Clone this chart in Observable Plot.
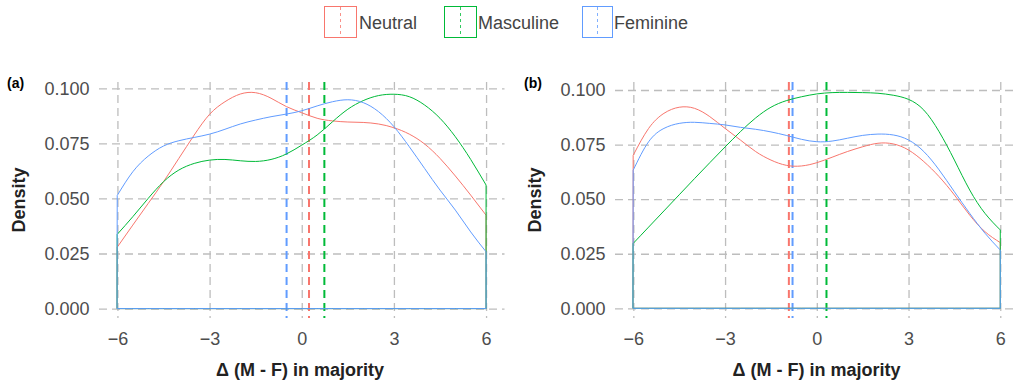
<!DOCTYPE html>
<html>
<head>
<meta charset="utf-8">
<script src="https://cdn.jsdelivr.net/npm/d3@7"></script>
<script src="https://cdn.jsdelivr.net/npm/@observablehq/plot@0.6"></script>
<style>
  html, body { margin: 0; padding: 0; background: #fff; }
  #root { width: 1018px; height: 384px; overflow: hidden; font-family: "Liberation Sans", Arial, sans-serif; }
  #row { display: flex; flex-direction: row; }
  svg { display: block; }
</style>
</head>
<body>
<div id="root">
  <div id="legend"></div>
  <div id="row"></div>
</div>
<script>
// ---------- data ----------
const groups = ["Neutral", "Masculine", "Feminine"];
const colors = ["#F8766D", "#00BA38", "#619CFF"];

const xs = [-6, -5.5, -5, -4.5, -4, -3.5, -3, -2.5, -2, -1.5, -1, -0.5, 0,
            0.5, 1, 1.5, 2, 2.5, 3, 3.5, 4, 4.5, 5, 5.5, 6];

// panel (a)
const aNeutral   = [0.028, 0.0379, 0.0477, 0.0576, 0.0682, 0.0788, 0.0882, 0.0939, 0.0974, 0.098, 0.0955, 0.0917, 0.0889,
                    0.0864, 0.0852, 0.0847, 0.0845, 0.0838, 0.0821, 0.0792, 0.0747, 0.0682, 0.0602, 0.0515, 0.0424];
const aMasculine = [0.0338, 0.0417, 0.05, 0.0576, 0.0629, 0.0659, 0.0674, 0.0677, 0.0671, 0.0668, 0.0677, 0.0702, 0.0742,
                    0.0788, 0.0848, 0.0905, 0.0944, 0.0967, 0.0973, 0.0962, 0.0924, 0.0864, 0.078, 0.0677, 0.0561];
const aFeminine  = [0.0515, 0.0621, 0.0692, 0.0738, 0.0762, 0.0777, 0.0792, 0.0814, 0.0838, 0.0856, 0.0871, 0.0883, 0.0898,
                    0.092, 0.0939, 0.0948, 0.0935, 0.0894, 0.0826, 0.0735, 0.0636, 0.0538, 0.0447, 0.0348, 0.0258];
const aMeans = [0.22, 0.72, -0.51];

// panel (b)
const bNeutral   = [0.0702, 0.0824, 0.0893, 0.0921, 0.0916, 0.0878, 0.0824, 0.0771, 0.0718, 0.0679, 0.0655, 0.0652, 0.0667,
                    0.0692, 0.0718, 0.074, 0.0756, 0.0753, 0.0725, 0.0672, 0.0603, 0.0519, 0.0427, 0.0351, 0.0301];
const bMasculine = [0.0298, 0.0372, 0.0446, 0.052, 0.0594, 0.0667, 0.0739, 0.0809, 0.0872, 0.0921, 0.0951, 0.0969, 0.0982,
                    0.0988, 0.0989, 0.0988, 0.0985, 0.0976, 0.0957, 0.0908, 0.0809, 0.0679, 0.0542, 0.0435, 0.0359];
const bFeminine  = [0.0634, 0.0763, 0.0824, 0.0847, 0.0852, 0.0847, 0.084, 0.0829, 0.082, 0.0808, 0.0792, 0.0774, 0.0763,
                    0.0766, 0.0779, 0.0792, 0.0798, 0.0794, 0.0771, 0.0718, 0.0634, 0.0534, 0.0435, 0.0344, 0.0267];
const bMeans = [-0.93, 0.30, -0.81];

const xTicks = [-6, -3, 0, 3, 6];
const yTicks = [0, 0.025, 0.05, 0.075, 0.1];
const xTitle = "Δ (M - F) in majority";
const yTitle = "Density";

// ---------- helpers ----------
function buildRows(series) {
  const rows = [];
  series.forEach((vals, gi) => {
    vals.forEach((v, i) => rows.push({group: groups[gi], x: xs[i], y: v}));
  });
  return rows;
}
function buildMeans(means) {
  return means.map((m, i) => ({group: groups[i], x: m}));
}
const fmtX = d => (d < 0 ? "\u2212" + Math.abs(d) : String(d));
const fmtY = d3.format(".3f");

function panel(cfg) {
  const rows = buildRows(cfg.series);
  const meanRows = buildMeans(cfg.means);
  const svg = Plot.plot({
    width: 509,
    height: 339,
    marginTop: 37,
    marginBottom: 66,
    marginLeft: cfg.marginLeft,
    marginRight: cfg.marginRight,
    style: {
      fontFamily: "'Liberation Sans', Arial, sans-serif",
      fontSize: "18px",
      color: "#4d4d4d",
      background: "#fff",
      overflow: "visible"
    },
    x: {domain: cfg.xDomain, ticks: xTicks},
    y: {domain: cfg.yDomain, ticks: yTicks},
    color: {domain: groups, range: colors},
    marks: [
      Plot.gridX(xTicks, {stroke: "#bdbdbd", strokeOpacity: 1, strokeWidth: 1.3, strokeDasharray: "8,5"}),
      Plot.gridY(yTicks, {stroke: "#bdbdbd", strokeOpacity: 1, strokeWidth: 1.3, strokeDasharray: "8,5"}),
      Plot.axisX({ticks: xTicks, tickSize: 0, tickPadding: 14, tickFormat: fmtX, label: null}),
      Plot.axisY({ticks: yTicks, tickSize: 0, tickPadding: 10, tickFormat: fmtY, label: null}),
      Plot.ruleX(meanRows, {x: "x", stroke: "group", strokeWidth: 2, strokeDasharray: "8,5"}),
      Plot.area(rows, {x1: "x", y1: 0, y2: "y", z: "group", fill: "none", stroke: "group", strokeWidth: 1, curve: "natural"})
    ]
  });
  const s = d3.select(svg);
  s.append("text")
    .attr("transform", `translate(${cfg.yTitleX},155) rotate(-90)`)
    .attr("text-anchor", "middle")
    .attr("dy", "0.35em")
    .attr("font-weight", "bold")
    .attr("font-size", 18)
    .attr("fill", "#222")
    .text(yTitle);
  s.append("text")
    .attr("x", cfg.xTitleX)
    .attr("y", 324.5)
    .attr("dy", "0.35em")
    .attr("text-anchor", "middle")
    .attr("font-weight", "bold")
    .attr("font-size", 18)
    .attr("fill", "#222")
    .text(xTitle);
  s.append("text")
    .attr("x", cfg.tagX)
    .attr("y", 43)
    .attr("text-anchor", "start")
    .attr("font-weight", "bold")
    .attr("font-size", 14)
    .attr("fill", "#000")
    .text(cfg.tag);
  return svg;
}

const row = document.getElementById("row");
row.appendChild(panel({
  series: [aNeutral, aMasculine, aFeminine],
  means: aMeans,
  marginLeft: 99, marginRight: 4.5,
  xDomain: [-6.6, 6.6],
  yDomain: [-0.00427, 0.10286],
  yTitleX: 18.5, xTitleX: 300, tagX: 7, tag: "(a)"
}));
row.appendChild(panel({
  series: [bNeutral, bMasculine, bFeminine],
  means: bMeans,
  marginLeft: 106, marginRight: 0,
  xDomain: [-6.6, 6.58],
  yDomain: [-0.00444, 0.10366],
  yTitleX: 26, xTitleX: 307.5, tagX: 15, tag: "(b)"
}));

// ---------- legend ----------
const legendItems = [
  {label: groups[0], color: colors[0], bx: 324, bw: 32, tx: 359},
  {label: groups[1], color: colors[1], bx: 444, bw: 32, tx: 478},
  {label: groups[2], color: colors[2], bx: 582, bw: 30, tx: 614}
];
const lg = d3.select("#legend").append("svg").attr("width", 1018).attr("height", 45);
legendItems.forEach(it => {
  const g = lg.append("g");
  g.append("rect").attr("x", it.bx + 0.5).attr("y", 6.5).attr("width", it.bw).attr("height", 31)
    .attr("fill", "#fff").attr("stroke", it.color).attr("stroke-width", 1);
  g.append("line").attr("x1", it.bx + it.bw / 2 + 0.5).attr("x2", it.bx + it.bw / 2 + 0.5)
    .attr("y1", 7).attr("y2", 37).attr("stroke", it.color).attr("stroke-width", 1)
    .attr("stroke-dasharray", "3,3").attr("stroke-opacity", 0.8);
  g.append("text").attr("x", it.tx).attr("y", 23).attr("dy", "0.35em")
    .attr("font-family", "'Liberation Sans', Arial, sans-serif")
    .attr("font-size", 18).attr("fill", "#444").text(it.label);
});
</script>
</body>
</html>
